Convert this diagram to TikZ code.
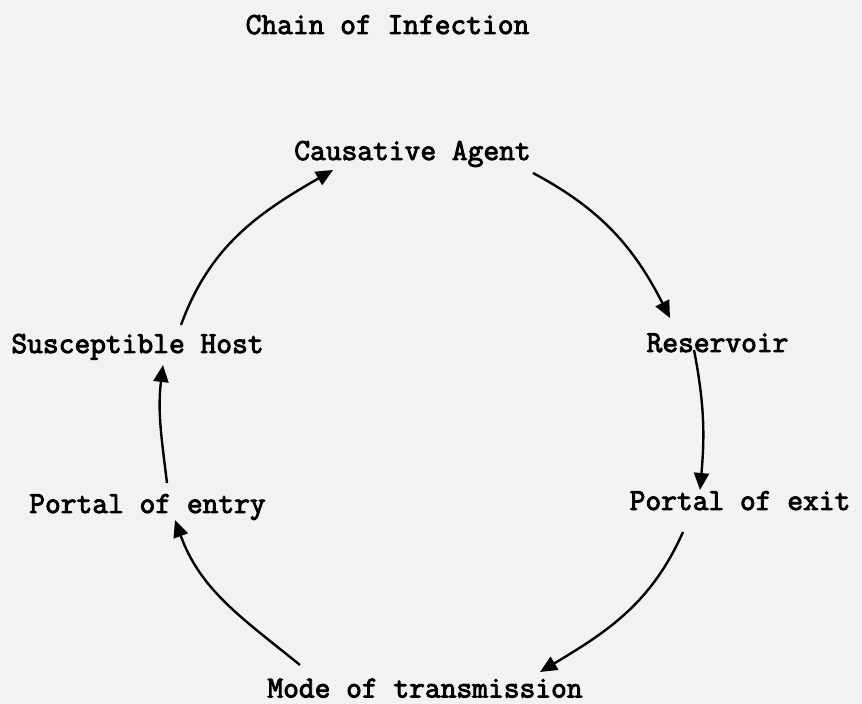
\documentclass[tikz,border=0pt]{standalone}
\usepackage{fontspec}
\newfontfamily\tw[FakeBold=3]{Latin Modern Mono}
\usetikzlibrary{arrows.meta}
\tikzset{
  lbl/.style={inner sep=0pt, anchor=base, font=\tw\fontsize{30.6}{34}\selectfont},
  conn/.style={line width=2.4pt, -{Triangle[length=17pt,width=15pt]}},
}
\begin{document}
\begin{tikzpicture}[x=1pt,y=1pt]
\useasboundingbox[fill=black!5] (0,0) rectangle (862,704);
% labels
\node[lbl] (title) at (387.5,670) {Chain of Infection};
\node[lbl] (ca)  at (412.5,544) {Causative Agent};
\node[lbl] (sh)  at (137.5,351) {Susceptible Host};
\node[lbl] (res) at (717.5,352) {Reservoir};
\node[lbl] (pen) at (147.5,191) {Portal of entry};
\node[lbl] (pex) at (740,194)   {Portal of exit};
\node[lbl] (mode) at (425,6.5)  {Mode of transmission};
% connector end points
\coordinate (c1s) at (533,531);  \coordinate (c1e) at (670,386);
\coordinate (c2s) at (694,354);  \coordinate (c2e) at (700,214);
\coordinate (c3s) at (683,172);  \coordinate (c3e) at (540,32);
\coordinate (c4s) at (300,39);   \coordinate (c4e) at (175,184);
\coordinate (c5s) at (167,221);  \coordinate (c5e) at (163,339);
\coordinate (c6s) at (181,379);  \coordinate (c6e) at (333,534);
% connectors
\draw[conn] (c1s) to[out=-28,in=117] (c1e);
\draw[conn] (c2s) to[out=-79,in=85] (c2e);
\draw[conn] (c3s) to[out=-114,in=31] (c3e);
\draw[conn] (c4s) to[out=141,in=-70] (c4e);
\draw[conn] (c5s) to[out=97,in=263] (c5e);
\draw[conn] (c6s) to[out=70,in=210] (c6e);
\end{tikzpicture}
\end{document}
